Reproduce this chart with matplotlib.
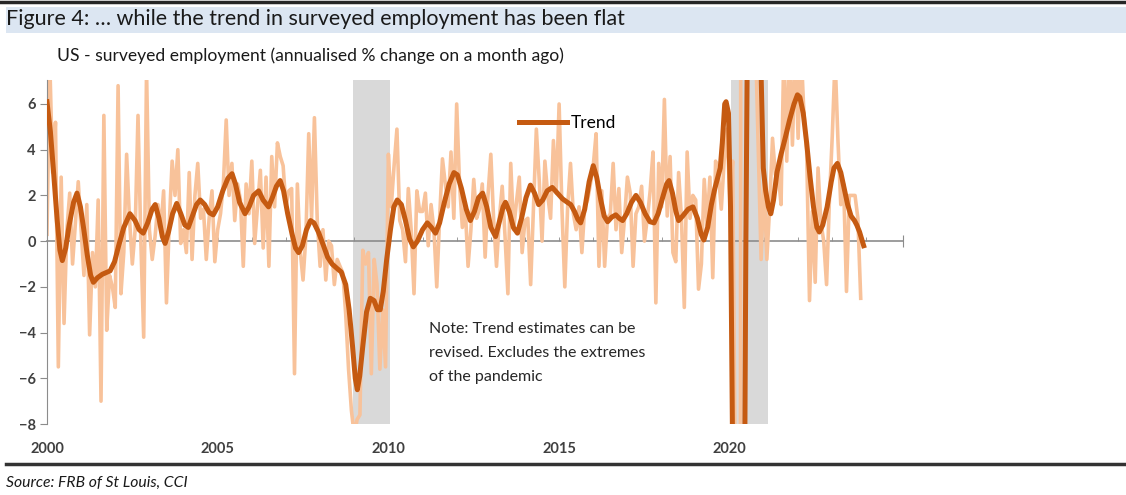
import numpy as np
import matplotlib
matplotlib.use("Agg")
import matplotlib.pyplot as plt
from matplotlib.patches import Rectangle
from matplotlib.lines import Line2D

plt.rcParams['font.family'] = ['Lato', 'DejaVu Sans']

# monthly surveyed employment, annualised % m/m (one row per year, Jan..Dec)
monthly = [
    [0.3, 7.8, 3.0, 5.2, -5.5, 2.8, -3.6, 0.5, 2.1, -1.0, 0.8, 2.6],        # 2000
    [0.5, -1.5, 1.6, -4.1, -0.5, -2.0, 1.8, -7.0, 5.5, -3.9, -1.5, -2.0],   # 2001
    [-2.9, 6.8, -2.3, -0.5, 3.8, 1.0, -1.0, 0.5, 5.5, 0.0, -4.2, 7.5],      # 2002
    [0.5, -0.8, 0.2, 1.6, 0.5, 2.2, -2.7, 0.8, 3.5, 2.0, 4.0, -0.1],        # 2003
    [0.5, -0.5, 3.0, -0.8, 2.0, 3.4, 1.0, 1.4, -0.8, 1.0, 2.2, -0.9],       # 2004
    [0.5, 1.2, 2.5, 5.3, 2.0, 3.4, 0.9, 2.5, 1.8, -1.1, 2.5, 1.2],          # 2005
    [3.5, -0.1, 1.5, 3.1, -0.3, 2.8, -1.1, 3.7, 1.5, 4.3, 3.7, 3.3],        # 2006
    [1.5, 2.2, 2.3, -5.8, 2.5, -0.4, -1.7, 0.2, 4.7, 1.0, 5.4, 0.9],        # 2007
    [-1.1, 0.5, -1.7, 0.0, -0.2, -1.9, -0.8, -1.1, -1.4, -3.2, -5.6, -7.4], # 2008
    [-8.5, -7.8, -7.6, -0.4, -1.0, -0.5, -5.8, -0.8, -1.9, -5.6, -3.0, -5.5],  # 2009
    [3.8, 1.5, 3.3, 4.9, 0.9, 0.5, -0.9, 2.3, 0.5, -2.3, 2.2, 1.3],         # 2010
    [1.3, 2.1, -0.2, 1.6, 0.5, -2.0, 1.0, 3.6, 2.5, 1.5, 3.9, 1.0],         # 2011
    [6.0, 2.5, 0.6, 1.5, -1.1, 0.5, 2.7, 1.0, 1.4, 2.5, -0.7, 2.0],         # 2012
    [3.8, 0.9, -1.1, 1.0, 2.4, 0.2, -2.3, 3.4, 0.5, 1.7, 2.8, -0.5],        # 2013
    [0.9, 1.0, -1.9, 1.5, 4.9, 2.7, 0.0, 3.5, 2.0, 1.0, 4.4, 2.1],          # 2014
    [6.0, 1.4, -2.0, 1.5, 3.4, 1.2, 0.5, 1.5, -0.5, 1.5, 1.8, 2.5],         # 2015
    [3.3, 4.7, -1.1, 2.2, -1.1, 1.0, 1.2, 3.4, 0.5, 2.3, -0.5, 1.0],        # 2016
    [2.8, 2.1, -1.1, 1.2, 1.5, 2.4, 0.0, 1.0, 2.2, 3.9, -2.7, 3.4],         # 2017
    [1.5, 6.2, 1.1, 3.7, -0.5, -0.9, 3.0, 1.0, -2.9, 3.9, 1.0, 2.0],        # 2018
    [1.8, -2.1, -1.0, 2.7, 0.7, 2.8, -1.6, 3.5, 2.9, 1.4, 3.5, 4.9],        # 2019
    [1.9, 3.5, -12.0, -150.0, 40.0, 55.0, 20.0, 14.0, 10.0, 9.0, 4.0, -0.8],  # 2020
    [2.8, -0.8, 1.5, 4.5, 2.9, 3.0, 1.6, 8.5, 3.5, 8.5, 4.2, 8.5],          # 2021
    [4.5, 8.5, 5.7, 4.0, -2.6, 1.3, -1.8, 3.2, 0.8, 0.0, -1.9, 1.8],        # 2022
    [4.6, 8.0, 4.4, 1.6, 2.5, -2.2, 2.0, 2.0, 2.0, 1.0, -2.5],              # 2023
]
first_year = 2000

# trend (at irregular dates)
trend_dates = [
    2000.00, 2000.10, 2000.20, 2000.30, 2000.38, 2000.45, 2000.55, 2000.65, 2000.78, 2000.88,
    2000.98, 2001.08, 2001.18, 2001.28, 2001.36, 2001.48, 2001.62, 2001.85, 2001.98, 2002.10,
    2002.25, 2002.43, 2002.58, 2002.70, 2002.82, 2002.95, 2003.08, 2003.17, 2003.28, 2003.38,
    2003.46, 2003.56, 2003.68, 2003.80, 2003.92, 2004.04, 2004.14, 2004.26, 2004.38, 2004.49,
    2004.62, 2004.75, 2004.87, 2005.00, 2005.15, 2005.30, 2005.42, 2005.52, 2005.64, 2005.80,
    2005.92, 2006.05, 2006.20, 2006.33, 2006.49, 2006.60, 2006.72, 2006.83, 2006.93, 2007.05,
    2007.18, 2007.28, 2007.37, 2007.48, 2007.60, 2007.72, 2007.82, 2007.95, 2008.10, 2008.22,
    2008.35, 2008.50, 2008.62, 2008.75, 2008.85, 2008.95, 2009.03, 2009.09, 2009.16, 2009.25,
    2009.36, 2009.47, 2009.58, 2009.68, 2009.76, 2009.85, 2009.95, 2010.06, 2010.16, 2010.26,
    2010.38, 2010.50, 2010.62, 2010.73, 2010.85, 2011.00, 2011.14, 2011.26, 2011.38, 2011.50,
    2011.64, 2011.78, 2011.92, 2012.02, 2012.14, 2012.28, 2012.40, 2012.52, 2012.64, 2012.76,
    2012.88, 2013.00, 2013.14, 2013.26, 2013.36, 2013.43, 2013.54, 2013.66, 2013.78, 2013.90,
    2014.03, 2014.16, 2014.28, 2014.40, 2014.52, 2014.65, 2014.80, 2014.95, 2015.10, 2015.24,
    2015.34, 2015.45, 2015.55, 2015.63, 2015.75, 2015.88, 2016.00, 2016.10, 2016.22, 2016.32,
    2016.42, 2016.54, 2016.66, 2016.76, 2016.86, 2016.98, 2017.12, 2017.25, 2017.38, 2017.52,
    2017.66, 2017.78, 2017.90, 2018.05, 2018.15, 2018.22, 2018.32, 2018.42, 2018.50, 2018.62,
    2018.78, 2018.92, 2019.05, 2019.16, 2019.24, 2019.35, 2019.46, 2019.56, 2019.65, 2019.72,
    2019.78, 2019.85, 2019.89, 2019.96, 2020.02, 2020.08, 2020.18, 2020.30, 2020.40, 2020.47,
    2020.52, 2020.62, 2020.75, 2020.86, 2020.92, 2020.98, 2021.05, 2021.13, 2021.20, 2021.28,
    2021.38, 2021.50, 2021.62, 2021.75, 2021.88, 2021.98, 2022.05, 2022.15, 2022.25, 2022.35,
    2022.45, 2022.55, 2022.62, 2022.72, 2022.85, 2022.97, 2023.05, 2023.15, 2023.25, 2023.35,
    2023.45, 2023.55, 2023.65, 2023.72, 2023.80, 2023.88, 2023.92,
]
trend_values = [
    6.1, 4.8, 2.9, 0.9, -0.4, -0.85, -0.3, 0.7, 1.7, 2.1,
    1.5, 0.5, -0.6, -1.5, -1.8, -1.6, -1.45, -1.3, -0.9, -0.2,
    0.6, 1.2, 0.9, 0.5, 0.35, 0.8, 1.4, 1.6, 1.0, 0.2,
    -0.1, 0.4, 1.2, 1.65, 1.2, 0.7, 0.6, 1.1, 1.6, 1.8,
    1.6, 1.25, 1.15, 1.5, 2.2, 2.75, 2.95, 2.5, 1.7, 1.2,
    1.5, 2.0, 2.2, 1.8, 1.5, 1.9, 2.4, 2.65, 2.2, 1.2,
    0.3, -0.3, -0.5, -0.2, 0.5, 0.9, 0.8, 0.4, -0.2, -0.7,
    -1.0, -1.2, -1.35, -1.9, -3.0, -4.6, -6.0, -6.5, -5.9, -4.6,
    -3.1, -2.5, -2.6, -3.0, -3.0, -2.2, -0.8, 0.5, 1.5, 1.8,
    1.6, 0.9, 0.1, -0.25, 0.0, 0.5, 0.8, 0.6, 0.35, 0.8,
    1.7, 2.5, 3.0, 2.9, 2.3, 1.4, 0.9, 1.3, 1.9, 2.1,
    1.5, 0.6, 0.2, 0.9, 1.5, 1.7, 1.3, 0.6, 0.35, 1.0,
    1.9, 2.45, 2.1, 1.6, 1.8, 2.2, 2.35, 2.1, 1.85, 1.7,
    1.6, 1.3, 0.95, 0.8, 1.4, 2.6, 3.3, 2.8, 1.8, 1.1,
    0.85, 1.05, 1.15, 1.0, 0.9, 1.2, 1.7, 2.0, 1.7, 1.2,
    0.85, 0.8, 1.2, 2.0, 2.5, 2.65, 2.1, 1.3, 0.9, 1.1,
    1.4, 1.5, 1.0, 0.3, 0.05, 0.6, 1.6, 2.3, 2.8, 3.2,
    4.3, 6.0, 6.1, 5.6, 1.5, -9.0, -40.0, -60.0, -20.0, 0.0,
    10.0, 30.0, 25.0, 12.0, 7.0, 3.2, 2.2, 1.5, 1.2, 1.8,
    3.0, 3.8, 4.5, 5.3, 6.0, 6.4, 6.3, 5.6, 4.3, 2.8,
    1.5, 0.6, 0.4, 0.7, 1.5, 2.6, 3.2, 3.4, 3.0, 2.3,
    1.6, 1.1, 0.9, 0.7, 0.4, 0.0, -0.2,
]

recessions = [(2008.97, 2010.06), (2020.03, 2021.12)]
year_labels = [2000, 2005, 2010, 2015, 2020]
y_ticks = [-8, -6, -4, -2, 0, 2, 4, 6]

light_vals = [v for row in monthly for v in row]
light_dates = [first_year + i / 12 for i in range(len(light_vals))]

fig = plt.figure(figsize=(11.26, 4.95), dpi=100)
ax = fig.add_axes([0.0417, 0.1434, 0.7602, 0.6950])

for start, end in recessions:
    ax.axvspan(start, end, color='#d9d9d9', lw=0, zorder=0)

ax.plot(light_dates, light_vals, color='#f8c29a', lw=2.6, zorder=2)
trend_line, = ax.plot(trend_dates, trend_values, color='#c55a11', lw=3.6, zorder=3)

ax.set_xlim(2000, 2025.07)
ax.set_ylim(-8, 7.05)

for s in ['top', 'right', 'bottom']:
    ax.spines[s].set_visible(False)
ax.spines['left'].set_color('#8c8c8c')
ax.set_yticks(y_ticks)
ax.tick_params(axis='y', direction='out', length=5, color='#8c8c8c',
               labelsize=10.5, labelcolor='#404040', pad=3)
for lab in ax.get_yticklabels():
    lab.set_fontweight('bold')
ax.set_xticks(year_labels)
ax.tick_params(axis='x', length=0, labelsize=10.5, labelcolor='#404040', pad=13)
for lab in ax.get_xticklabels():
    lab.set_fontweight('bold')

# zero line carrying the year ticks
zero = ax.secondary_xaxis(0, transform=ax.transData)
zero.spines['bottom'].set_color('#8c8c8c')
zero.spines['bottom'].set_linewidth(1.2)
zero.set_xticks([2025.07])
zero.set_xticks(range(2001, 2025), minor=True)
zero.tick_params(which='major', direction='inout', length=8, color='#8c8c8c', labelbottom=False)
zero.tick_params(which='minor', direction='in', length=3, color='#8c8c8c')

ax.legend(handles=[trend_line], labels=['Trend'], loc='center left',
          bbox_to_anchor=(0.552, 0.875), frameon=False, fontsize=12.5,
          handlelength=2.75, handletextpad=0.2, borderpad=0, borderaxespad=0)

ax.text(2011.2, -4.9, 'Note: Trend estimates can be\nrevised. Excludes the extremes\nof the pandemic',
        fontsize=11.5, color='#262626', va='center', ha='left', linespacing=1.9)

# header / footer
fig.patches.append(Rectangle((0.005, 0.933), 0.995, 0.052, transform=fig.transFigure,
                             facecolor='#dce6f2', edgecolor='none', zorder=0))
fig.add_artist(Line2D([0.0, 1.0], [0.995, 0.995], color='#262626', lw=2.5))
fig.text(0.005, 0.9615, 'Figure 4: \u2026 while the trend in surveyed employment has been flat',
         fontsize=15.5, color='#1a1a1a', va='center', ha='left')
fig.text(0.051, 0.887, 'US - surveyed employment (annualised % change on a month ago)',
         fontsize=12.6, color='#1a1a1a', va='center', ha='left')
fig.add_artist(Line2D([0.005, 1.0], [0.0626, 0.0626], color='#333333', lw=2.5))
fig.text(0.005, 0.024, 'Source: FRB of St Louis, CCI', fontsize=11.3, style='italic',
         color='#1a1a1a', va='center', ha='left')

fig.savefig('out.png', dpi=100)
